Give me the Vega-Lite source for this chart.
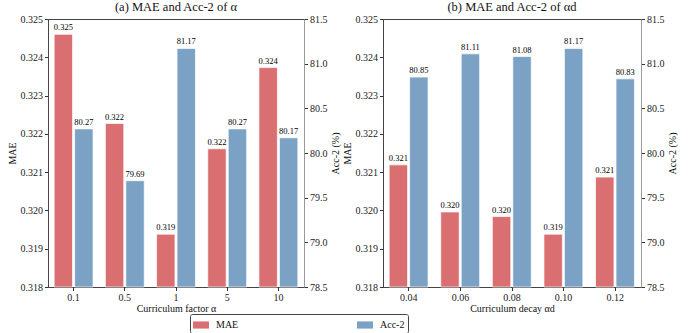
{
  "$schema": "https://vega.github.io/schema/vega-lite/v6.json",
  "padding": {"left": 6, "top": 0, "right": 0, "bottom": 0},
  "background": "white",
  "datasets": {
    "d": [
      {"panel": "a", "param": "0.1", "metric": "MAE", "value": 0.3246},
      {"panel": "a", "param": "0.5", "metric": "MAE", "value": 0.32227},
      {"panel": "a", "param": "1", "metric": "MAE", "value": 0.31938},
      {"panel": "a", "param": "5", "metric": "MAE", "value": 0.32161},
      {"panel": "a", "param": "10", "metric": "MAE", "value": 0.32373},
      {"panel": "a", "param": "0.1", "metric": "Acc-2", "value": 80.27},
      {"panel": "a", "param": "0.5", "metric": "Acc-2", "value": 79.69},
      {"panel": "a", "param": "1", "metric": "Acc-2", "value": 81.17},
      {"panel": "a", "param": "5", "metric": "Acc-2", "value": 80.27},
      {"panel": "a", "param": "10", "metric": "Acc-2", "value": 80.17},
      {"panel": "b", "param": "0.04", "metric": "MAE", "value": 0.32119},
      {"panel": "b", "param": "0.06", "metric": "MAE", "value": 0.31996},
      {"panel": "b", "param": "0.08", "metric": "MAE", "value": 0.31984},
      {"panel": "b", "param": "0.10", "metric": "MAE", "value": 0.31938},
      {"panel": "b", "param": "0.12", "metric": "MAE", "value": 0.32087},
      {"panel": "b", "param": "0.04", "metric": "Acc-2", "value": 80.85},
      {"panel": "b", "param": "0.06", "metric": "Acc-2", "value": 81.11},
      {"panel": "b", "param": "0.08", "metric": "Acc-2", "value": 81.08},
      {"panel": "b", "param": "0.10", "metric": "Acc-2", "value": 81.17},
      {"panel": "b", "param": "0.12", "metric": "Acc-2", "value": 80.83}
    ]
  },
  "data": {"name": "d"},
  "hconcat": [
    {
      "width": 256,
      "height": 268,
      "title": {"text": "(a) MAE and Acc-2 of α"},
      "transform": [{"filter": "datum.panel == 'a'"}],
      "encoding": {
        "x": {"field": "param", "type": "nominal", "sort": ["0.1", "0.5", "1", "5", "10"],
              "scale": {"paddingInner": 0, "paddingOuter": 0},
              "axis": {"title": "Curriculum factor α"}},
        "xOffset": {"field": "metric", "type": "nominal", "scale": {"domain": ["MAE", "Acc-2"], "paddingInner": 0.1, "paddingOuter": 0.3}},
        "color": {"field": "metric", "type": "nominal", "scale": {"domain": ["MAE", "Acc-2"], "range": ["#DA6F71", "#7BA2C4"]},
                  "legend": {"title": null}}
      },
      "layer": [
        {
          "transform": [{"filter": "datum.metric == 'MAE'"}, {"joinaggregate": [{"op": "min", "field": "value", "as": "best"}]}],
          "encoding": {
            "y": {"field": "value", "type": "quantitative",
                  "scale": {"domain": [0.318, 0.325], "zero": false, "nice": false},
                  "axis": {"title": "MAE", "orient": "left", "values": [0.318, 0.319, 0.32, 0.321, 0.322, 0.323, 0.324, 0.325], "format": ".3f"}}
          },
          "layer": [
            {"mark": {"type": "bar", "stroke": "white", "strokeWidth": 1, "strokeOpacity": 0.7},
             "encoding": {"y2": {"datum": 0.318}}},
            {"mark": {"type": "text", "baseline": "bottom", "dy": -2, "fontSize": 8.5},
             "encoding": {"text": {"field": "value", "type": "quantitative", "format": ".3f"},
                          "color": {"value": "#000"},
                          "fontWeight": {"condition": {"test": "datum.value == datum.best", "value": "bold"}, "value": "normal"}}}
          ]
        },
        {
          "transform": [{"filter": "datum.metric == 'Acc-2'"}, {"joinaggregate": [{"op": "max", "field": "value", "as": "best"}]}],
          "encoding": {
            "y": {"field": "value", "type": "quantitative",
                  "scale": {"domain": [78.5, 81.5], "zero": false, "nice": false},
                  "axis": {"title": "Acc-2 (%)", "orient": "right", "titleAngle": 270, "titleBaseline": "top", "values": [78.5, 79, 79.5, 80, 80.5, 81, 81.5], "format": ".1f", "domainColor": "#999"}}
          },
          "layer": [
            {"mark": {"type": "bar", "stroke": "white", "strokeWidth": 1, "strokeOpacity": 0.7},
             "encoding": {"y2": {"datum": 78.5}}},
            {"mark": {"type": "text", "baseline": "bottom", "dy": -2, "fontSize": 8.5},
             "encoding": {"text": {"field": "value", "type": "quantitative", "format": ".2f"},
                          "color": {"value": "#000"},
                          "fontWeight": {"condition": {"test": "datum.value == datum.best", "value": "bold"}, "value": "normal"}}}
          ]
        }
      ],
      "resolve": {"scale": {"y": "independent"}}
    },
    {
      "width": 258,
      "height": 268,
      "title": {"text": "(b) MAE and Acc-2 of αd"},
      "transform": [{"filter": "datum.panel == 'b'"}],
      "encoding": {
        "x": {"field": "param", "type": "nominal", "sort": ["0.04", "0.06", "0.08", "0.10", "0.12"],
              "scale": {"paddingInner": 0, "paddingOuter": 0},
              "axis": {"title": "Curriculum decay αd"}},
        "xOffset": {"field": "metric", "type": "nominal", "scale": {"domain": ["MAE", "Acc-2"], "paddingInner": 0.1, "paddingOuter": 0.3}},
        "color": {"field": "metric", "type": "nominal", "scale": {"domain": ["MAE", "Acc-2"], "range": ["#DA6F71", "#7BA2C4"]},
                  "legend": {"title": null}}
      },
      "layer": [
        {
          "transform": [{"filter": "datum.metric == 'MAE'"}, {"joinaggregate": [{"op": "min", "field": "value", "as": "best"}]}],
          "encoding": {
            "y": {"field": "value", "type": "quantitative",
                  "scale": {"domain": [0.318, 0.325], "zero": false, "nice": false},
                  "axis": {"title": "MAE", "orient": "left", "values": [0.318, 0.319, 0.32, 0.321, 0.322, 0.323, 0.324, 0.325], "format": ".3f"}}
          },
          "layer": [
            {"mark": {"type": "bar", "stroke": "white", "strokeWidth": 1, "strokeOpacity": 0.7},
             "encoding": {"y2": {"datum": 0.318}}},
            {"mark": {"type": "text", "baseline": "bottom", "dy": -2, "fontSize": 8.5},
             "encoding": {"text": {"field": "value", "type": "quantitative", "format": ".3f"},
                          "color": {"value": "#000"},
                          "fontWeight": {"condition": {"test": "datum.value == datum.best", "value": "bold"}, "value": "normal"}}}
          ]
        },
        {
          "transform": [{"filter": "datum.metric == 'Acc-2'"}, {"joinaggregate": [{"op": "max", "field": "value", "as": "best"}]}],
          "encoding": {
            "y": {"field": "value", "type": "quantitative",
                  "scale": {"domain": [78.5, 81.5], "zero": false, "nice": false},
                  "axis": {"title": "Acc-2 (%)", "orient": "right", "titleAngle": 270, "titleBaseline": "top", "values": [78.5, 79, 79.5, 80, 80.5, 81, 81.5], "format": ".1f", "domainColor": "#999"}}
          },
          "layer": [
            {"mark": {"type": "bar", "stroke": "white", "strokeWidth": 1, "strokeOpacity": 0.7},
             "encoding": {"y2": {"datum": 78.5}}},
            {"mark": {"type": "text", "baseline": "bottom", "dy": -2, "fontSize": 8.5},
             "encoding": {"text": {"field": "value", "type": "quantitative", "format": ".2f"},
                          "color": {"value": "#000"},
                          "fontWeight": {"condition": {"test": "datum.value == datum.best", "value": "bold"}, "value": "normal"}}}
          ]
        }
      ],
      "resolve": {"scale": {"y": "independent"}}
    }
  ],
  "spacing": 79,
  "bounds": "flush",
  "config": {
    "font": "Liberation Serif",
    "view": {"stroke": "#444", "strokeWidth": 1},
    "title": {"fontSize": 12.5, "fontWeight": "normal", "color": "#111", "offset": 1},
    "axis": {
      "grid": false,
      "labelFontSize": 10,
      "titleFontSize": 10,
      "titleFontWeight": "normal",
      "labelColor": "#222",
      "titleColor": "#111",
      "tickSize": 3.5,
      "tickColor": "#333",
      "domainColor": "#444",
      "labelPadding": 2,
      "titlePadding": 3,
      "labelAngle": 0
    },
    "axisX": {"titlePadding": 1},
    "legend": {
      "orient": "none",
      "legendX": 142,
      "legendY": 295,
      "direction": "horizontal",
      "columns": 2,
      "columnPadding": 118,
      "padding": 3,
      "strokeColor": "#444",
      "cornerRadius": 2,
      "labelFontSize": 10,
      "labelColor": "#111",
      "labelOffset": 7,
      "symbolType": "M-1,-0.45H1V0.45H-1Z",
      "symbolSize": 256,
      "symbolStrokeWidth": 0
    }
  }
}
